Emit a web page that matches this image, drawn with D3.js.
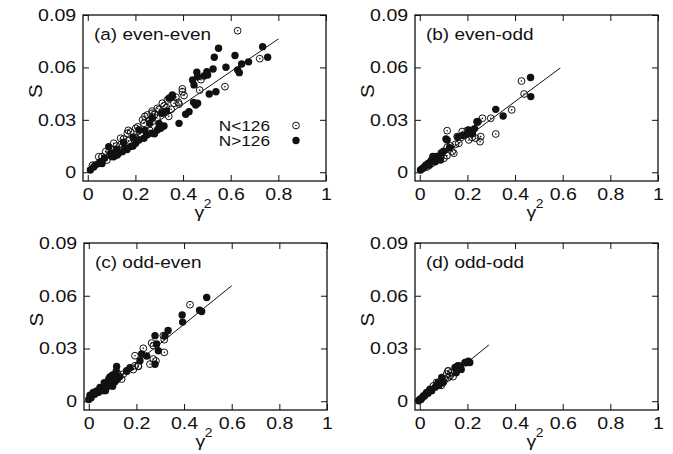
<!DOCTYPE html>
<html>
<head>
<meta charset="utf-8">
<script src="https://cdn.jsdelivr.net/npm/d3@7"></script>
<style>
  body { margin: 0; background: white; }
</style>
</head>
<body>
<script>
// axis ticks
let xTicks = [0, 0.2, 0.4, 0.6, 0.8, 1]
let yTicks = [0, 0.03, 0.06, 0.09]

let panelTitles = ['(a) even-even', '(b) even-odd', '(c) odd-even', '(d) odd-odd']
let legendLabels = ['N<126', 'N>126']

// (a) even-even : [gamma^2, S]
let aOpen = [[0.629,0.081],[0.722,0.065],[0.576,0.049],[0.475,0.053],[0.47,0.047],[0.397,0.0477],[0.404,0.0439],
  [0.355,0.0433],[0.362,0.0395],[0.383,0.039],[0.046,0.0089],[0.075,0.0118],[0.109,0.0166],[0.138,0.0195],
  [0.166,0.0223],[0.201,0.0252],[0.236,0.028],[0.25,0.0328],[0.271,0.0338],[0.292,0.0366],[0.313,0.0395],
  [0.334,0.0414],[0.397,0.0461],[0.02,0.004],[0.06,0.009],[0.09,0.012],[0.12,0.015],[0.15,0.019],
  [0.17,0.024],[0.18,0.023],[0.2,0.02],[0.21,0.026],[0.23,0.03],[0.24,0.032],[0.26,0.03],[0.27,0.035],
  [0.28,0.033],[0.29,0.031],[0.3,0.036],[0.31,0.034],[0.32,0.038],[0.33,0.037],[0.34,0.032],[0.35,0.036],
  [0.37,0.043],[0.26,0.024],[0.14,0.016],[0.11,0.013],[0.08,0.007],[0.17,0.018],[0.22,0.022],[0.38,0.04]]
let aFilled = [[0.549,0.071],[0.734,0.0719],[0.531,0.0658],[0.618,0.0668],[0.755,0.0658],[0.675,0.0632],
  [0.646,0.062],[0.58,0.0601],[0.526,0.0591],[0.629,0.0586],[0.636,0.057],[0.5,0.0576],[0.488,0.0551],
  [0.503,0.0557],[0.458,0.0572],[0.461,0.0547],[0.44,0.0528],[0.446,0.05],[0.51,0.0448],[0.538,0.0461],
  [0.444,0.04],[0.453,0.0385],[0.461,0.0395],[0.425,0.0347],[0.411,0.0332],[0.383,0.028],
  [0.011,0.0013],[0.032,0.0042],[0.053,0.006],[0.046,0.005],[0.096,0.0109],[0.109,0.0089],[0.124,0.0099],
  [0.145,0.0118],[0.159,0.0137],[0.18,0.0147],[0.201,0.0166],[0.215,0.0185],[0.236,0.0195],[0.25,0.0214],
  [0.271,0.0223],[0.292,0.0242],[0.306,0.0252],[0.32,0.0265],[0.3,0.026],[0.28,0.022],
  [0.088,0.0147],[0.215,0.0242],[0.271,0.0309],[0.313,0.0338],[0.341,0.0424],[0.355,0.0442],[0.299,0.028],
  [0.35,0.043],[0.33,0.035],[0.26,0.028],[0.24,0.024],[0.19,0.02],[0.15,0.017],[0.12,0.013],[0.07,0.008],
  [0.025,0.003],[0.06,0.005],[0.1,0.009],[0.13,0.011],[0.165,0.013],[0.19,0.015]]
let aFit = [[0, 0.0015], [0.8, 0.0763]]

// (b) even-odd
let bOpen = [[0.115,0.0238],[0.386,0.0357],[0.438,0.0448],[0.427,0.0522],[0.319,0.0219],[0.242,0.0286],
  [0.263,0.0309],[0.298,0.0309],[0.206,0.0185],[0.235,0.0195],[0.256,0.0204],[0.253,0.0175],[0.178,0.0233],
  [0.157,0.0204],[0.164,0.0166],[0.129,0.015],[0.115,0.0143],[0.101,0.008],[0.136,0.0118],[0.143,0.0109],
  [0.114,0.0095],[0.2,0.024],[0.22,0.02],[0.05,0.005],[0.07,0.007],[0.09,0.01],[0.03,0.003],[0.15,0.016],
  [0.245,0.029],[0.22,0.022]]
let bFilled = [[0.003,0.0013],[0.01,0.002],[0.02,0.003],[0.025,0.004],[0.035,0.005],[0.045,0.006],[0.05,0.007],
  [0.06,0.008],[0.07,0.009],[0.08,0.008],[0.087,0.007],[0.09,0.011],[0.1,0.012],[0.115,0.0185],[0.11,0.019],
  [0.125,0.014],[0.319,0.036],[0.35,0.0322],[0.466,0.0433],[0.465,0.0542],[0.206,0.0242],[0.221,0.0223],
  [0.192,0.0214],[0.24,0.029],[0.23,0.025],[0.16,0.02],[0.015,0.0025],[0.04,0.004],[0.065,0.006],
  [0.055,0.009],[0.18,0.021],[0.2,0.022]]
let bFit = [[0, 0], [0.59, 0.0597]]

// (c) odd-even
let cOpen = [[0.145,0.0154],[0.194,0.0202],[0.208,0.0198],[0.138,0.0126],[0.194,0.0259],[0.229,0.0301],
  [0.264,0.0331],[0.271,0.0316],[0.317,0.0278],[0.313,0.0373],[0.271,0.024],[0.257,0.0211],[0.425,0.0549],
  [0.317,0.035],[0.282,0.0229],[0.208,0.02],[0.187,0.018],[0.06,0.007],[0.16,0.017],[0.12,0.016],[0.1,0.013]]
let cFilled = [[0.0,0.001],[0.005,0.0034],[0.019,0.005],[0.033,0.0059],[0.047,0.0078],[0.054,0.0069],
  [0.068,0.0097],[0.082,0.0116],[0.096,0.0126],[0.11,0.0145],[0.08,0.011],[0.09,0.014],[0.1,0.015],
  [0.105,0.012],[0.11,0.011],[0.085,0.013],[0.095,0.0105],[0.1,0.0085],[0.12,0.0125],[0.115,0.017],
  [0.117,0.0198],[0.159,0.0173],[0.215,0.023],[0.222,0.0269],[0.278,0.0373],[0.285,0.0326],[0.292,0.0287],
  [0.32,0.0373],[0.333,0.0402],[0.392,0.049],[0.394,0.045],[0.465,0.0518],[0.474,0.051],[0.495,0.059],
  [0.278,0.021],[0.243,0.0257],[0.173,0.019],[0.04,0.005],[0.06,0.006],[0.07,0.006],[0.075,0.008],
  [0.065,0.0105],[0.13,0.014],[0.025,0.004],[0.01,0.002]]
let cFit = [[0, 0], [0.6, 0.0657]]

// (d) odd-odd
let dOpen = [[0.12,0.0173],[0.113,0.0154],[0.127,0.0145],[0.106,0.0126],[0.071,0.0107],[0.057,0.0087],
  [0.118,0.0133],[0.132,0.0162],[0.118,0.0171],[0.04,0.006],[0.025,0.004],[0.09,0.009],[0.14,0.014],[0.1,0.011]]
let dFilled = [[0.19,0.022],[0.204,0.0227],[0.195,0.0219],[0.21,0.022],[0.16,0.0202],[0.148,0.0192],
  [0.155,0.0183],[0.092,0.0135],[0.078,0.0107],[0.043,0.0069],[0.029,0.005],[0.015,0.003],[0.001,0.0011],
  [-0.005,0.0003],[0.097,0.0105],[0.153,0.0162],[0.174,0.0181],[0.16,0.019],[0.17,0.02],[0.08,0.009],
  [0.075,0.0095],[0.065,0.008],[0.05,0.006],[0.01,0.002],[0.02,0.003],[0.035,0.0045],[0.005,0.001],[0.165,0.0195]]
let dFit = [[0, 0], [0.29, 0.032]]

let fontFamily = '"Liberation Sans", Arial, Helvetica, sans-serif'
let stretch = 1.15   // the reference lettering is a little wider than Arial

let svgContainer = d3.select("body").append("svg")
                    .attr("width", 673)
                    .attr("height", 454)

svgContainer.append('rect')
            .attr('width', '100%')
            .attr('height', '100%')
            .attr('fill', 'white')

let boxes = [
    {left: 83, top: 15, right: 326, bottom: 181},
    {left: 415, top: 15, right: 658, bottom: 181},
    {left: 84, top: 243, right: 327, bottom: 410},
    {left: 415, top: 243, right: 658, bottom: 410}
]

drawPanel(boxes[0], panelTitles[0], aOpen, aFilled, aFit, true)
drawPanel(boxes[1], panelTitles[1], bOpen, bFilled, bFit, false)
drawPanel(boxes[2], panelTitles[2], cOpen, cFilled, cFit, false)
drawPanel(boxes[3], panelTitles[3], dOpen, dFilled, dFit, false)

function addText(g, x, y, size, str, anchor) {
    return g.append('text')
            .attr('transform', `translate(${x},${y}) scale(${stretch},1)`)
            .attr('text-anchor', anchor || 'start')
            .attr('font-family', fontFamily)
            .attr('font-size', size + 'px')
            .attr('fill', '#111')
            .text(str)
}

function drawPanel(box, title, openPts, filledPts, fit, showLegend) {
    let g = svgContainer.append('g')

    let x = d3.scaleLinear().domain([-0.02, 1]).range([box.left, box.right])
    let y = d3.scaleLinear().domain([-0.005, 0.09]).range([box.bottom, box.top])

    // inward ticks on all four sides
    g.append('g')
        .attr('transform', `translate(0,${box.bottom})`)
        .call(d3.axisBottom(x).tickValues(xTicks).tickSizeInner(-6).tickSizeOuter(0)
            .tickPadding(7).tickFormat(d => String(d)))
    g.append('g')
        .attr('transform', `translate(${box.left},0)`)
        .call(d3.axisLeft(y).tickValues(yTicks).tickSizeInner(-6).tickSizeOuter(0)
            .tickPadding(6).tickFormat(d => String(d)))
    g.append('g')
        .attr('transform', `translate(0,${box.top})`)
        .call(d3.axisTop(x).tickValues(xTicks).tickSizeInner(-6).tickSizeOuter(0).tickFormat(''))
    g.append('g')
        .attr('transform', `translate(${box.right},0)`)
        .call(d3.axisRight(y).tickValues(yTicks).tickSizeInner(-6).tickSizeOuter(0).tickFormat(''))

    g.selectAll('.domain').remove()
    g.selectAll('.tick line').attr('stroke', '#111').attr('stroke-width', 1)
    g.selectAll('.tick text')
        .attr('fill', '#111')
        .attr('font-family', fontFamily)
        .attr('font-size', '17px')
        .attr('transform', `scale(${stretch},1)`)

    g.append('rect')
        .attr('x', box.left)
        .attr('y', box.top)
        .attr('width', box.right - box.left)
        .attr('height', box.bottom - box.top)
        .attr('fill', 'none')
        .attr('stroke', '#111')
        .attr('stroke-width', 1.3)

    // open circles N<126
    let open = g.append('g')
    open.selectAll('circle')
        .data(openPts)
        .enter().append('circle')
        .attr('cx', d => x(d[0]))
        .attr('cy', d => y(d[1]))
        .attr('r', 3.4)
        .attr('fill', 'none')
        .attr('stroke', '#111')
        .attr('stroke-width', 1)
    open.selectAll('.dot')
        .data(openPts)
        .enter().append('circle')
        .attr('class', 'dot')
        .attr('cx', d => x(d[0]))
        .attr('cy', d => y(d[1]))
        .attr('r', 0.8)
        .attr('fill', '#111')

    // filled circles N>126
    g.append('g').selectAll('circle')
        .data(filledPts)
        .enter().append('circle')
        .attr('cx', d => x(d[0]))
        .attr('cy', d => y(d[1]))
        .attr('r', 3.7)
        .attr('fill', '#111')

    g.append('path')
        .datum(fit)
        .attr('d', d3.line().x(d => x(d[0])).y(d => y(d[1])))
        .attr('fill', 'none')
        .attr('stroke', '#111')
        .attr('stroke-width', 1)

    addText(g, box.left + 11, box.top + 25, 16.5, title)

    // axis titles
    g.append('text')
        .attr('transform', `translate(${box.left - 41},${(box.top + box.bottom) / 2 - 7}) rotate(-90) scale(${stretch},1)`)
        .attr('text-anchor', 'middle')
        .attr('font-family', fontFamily)
        .attr('font-size', '18px')
        .attr('fill', '#111')
        .text('S')

    let cx = (box.left + box.right) / 2
    addText(g, cx - 5, box.bottom + 37, 17, 'γ', 'middle')
    addText(g, cx + 3, box.bottom + 27, 12, '2', 'middle')

    if (showLegend) {
        legendLabels.forEach((label, i) => {
            let ly = box.top + 115.5 + i * 15
            addText(g, box.right - 56, ly, 15, label, 'end')
            let sx = box.right - 30
            let sy = ly - 5
            if (i === 0) {
                g.append('circle').attr('cx', sx).attr('cy', sy).attr('r', 3.4)
                    .attr('fill', 'none').attr('stroke', '#111').attr('stroke-width', 1)
                g.append('circle').attr('cx', sx).attr('cy', sy).attr('r', 0.8).attr('fill', '#111')
            } else {
                g.append('circle').attr('cx', sx).attr('cy', sy).attr('r', 3.7).attr('fill', '#111')
            }
        })
    }
}
</script>
</body>
</html>
